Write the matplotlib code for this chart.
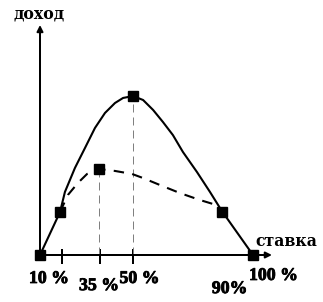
import matplotlib
matplotlib.use("Agg")
import matplotlib.pyplot as plt
import matplotlib.patheffects as pe

# positions are in chart units: x = 0..100 along the rate axis, y = 0..100 at the top of the income curve
solid_x = [0, 9.4, 11.7, 16.4, 21.1, 25.8, 30.5, 35.2, 39.0, 43.7, 48.4, 53.1, 57.7, 62.4, 67.1, 73.7, 79.8, 85.4, 100]
solid_y = [0, 27.2, 39.9, 55.1, 67.7, 80.4, 89.9, 96.2, 99.4, 100.6, 98.1, 91.8, 84.2, 75.9, 65.2, 52.5, 39.9, 27.8, 0]

dash_x = [9.4, 13.1, 17.8, 22.1, 27.7, 35.2, 43.2, 48.4, 56.3, 65.7, 75.1, 81.2, 85.4]
dash_y = [27.2, 38.0, 45.6, 51.3, 54.4, 53.2, 51.3, 48.7, 44.3, 39.2, 34.8, 32.3, 27.8]

marker_x = [0, 9.4, 43.7, 85.4, 100, 27.7]
marker_y = [0, 27.2, 100.6, 27.2, 0, 54.4]

tick_x = [10.3, 28.2, 43.7]

labels = ["10 %", "35 %", "50 %", "90%", "100 %"]
label_x = [4.2, 27.7, 46.7, 89.0, 109.6]
label_y = [-17.7, -22.2, -17.7, -24.1, -15.8]

xlab = "ставка"
ylab = "доход"

fig = plt.figure(figsize=(3.23, 3.02), dpi=100)
ax = fig.add_axes([0, 0, 1, 1])
ax.set_xlim(-18.78, 132.86)
ax.set_ylim(-29.75, 161.4)
ax.axis("off")

heavy = [pe.withStroke(linewidth=0.6, foreground="black")]
num_font = dict(family="Liberation Serif", weight="bold", size=12.8, path_effects=heavy)
word_font = dict(family="DejaVu Serif", weight="bold", size=11.3)

# axes with arrows
ax.annotate("", xy=(0, 145.6), xytext=(0, 0),
            arrowprops=dict(arrowstyle="-|>", lw=1.44, color="black", mutation_scale=9, shrinkA=0, shrinkB=0))
ax.annotate("", xy=(108.9, 0), xytext=(0, 0),
            arrowprops=dict(arrowstyle="-|>", lw=1.44, color="black", mutation_scale=9, shrinkA=0, shrinkB=0))

for tx in tick_x:
    ax.plot([tx, tx], [-5.7, 3.8], color="black", lw=1.44, solid_capstyle="butt")

# gray guides
ax.plot([marker_x[5], marker_x[5]], [0, marker_y[5]], color="gray", lw=0.72, linestyle=(0, (8, 5)))
ax.plot([marker_x[2], marker_x[2]], [0, marker_y[2]], color="gray", lw=0.72, linestyle=(0, (8, 5)))

ax.plot(solid_x, solid_y, color="black", lw=1.5, solid_joinstyle="round")
ax.plot(dash_x, dash_y, color="black", lw=1.5, linestyle=(0, (5, 4)))
ax.plot(marker_x, marker_y, "s", color="black", markersize=7, linestyle="none")

for t, x, y in zip(labels, label_x, label_y):
    ax.text(x, y, t, ha="center", va="baseline", **num_font)

ax.text(115.5, 5.7, xlab, ha="center", va="baseline", **word_font)
ax.text(-0.5, 149.4, ylab, ha="center", va="baseline", **word_font)

fig.savefig("out.png", dpi=100)
